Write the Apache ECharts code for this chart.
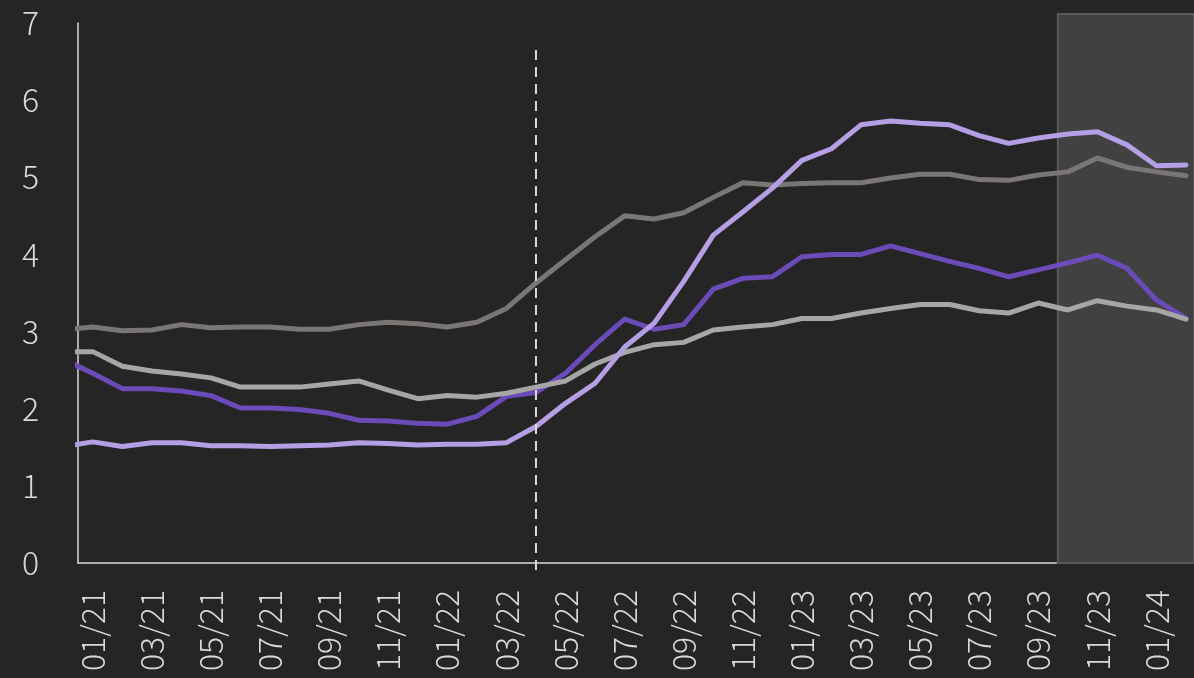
<!DOCTYPE html>
<html>
<head>
  <meta charset="UTF-8" />
  <title>Rates 2021-2024</title>
  <script src="https://cdn.jsdelivr.net/npm/echarts@6/dist/echarts.min.js"></script>
  <style>
    html, body { margin: 0; height: 100%; background-color: #252525; }
    #main { width: 1194px; height: 678px; }
  </style>
</head>
<body>
  <div id="main"></div>
  <script>
    // months, first one (12/20) sits just left of the axis and is clipped
    const months = ['12/20',
      '01/21', '02/21', '03/21', '04/21', '05/21', '06/21', '07/21', '08/21', '09/21', '10/21', '11/21', '12/21',
      '01/22', '02/22', '03/22', '04/22', '05/22', '06/22', '07/22', '08/22', '09/22', '10/22', '11/22', '12/22',
      '01/23', '02/23', '03/23', '04/23', '05/23', '06/23', '07/23', '08/23', '09/23', '10/23', '11/23', '12/23',
      '01/24', '02/24'];

    const darkGray = [3.02,
      3.06, 3.01, 3.02, 3.09, 3.05, 3.06, 3.06, 3.03, 3.03, 3.09, 3.12, 3.10,
      3.06, 3.12, 3.30, 3.63, 3.93, 4.23, 4.50, 4.46, 4.54, 4.74, 4.93, 4.90,
      4.92, 4.93, 4.93, 4.99, 5.04, 5.04, 4.97, 4.96, 5.03, 5.07, 5.25, 5.13,
      5.07, 5.02];
    const lightGray = [2.74,
      2.74, 2.55, 2.49, 2.45, 2.40, 2.28, 2.28, 2.28, 2.32, 2.36, 2.24, 2.13,
      2.17, 2.15, 2.20, 2.28, 2.36, 2.58, 2.73, 2.83, 2.86, 3.02, 3.06, 3.09,
      3.17, 3.17, 3.24, 3.30, 3.35, 3.35, 3.27, 3.24, 3.37, 3.28, 3.40, 3.33,
      3.28, 3.16];
    const purple = [2.64,
      2.46, 2.26, 2.26, 2.23, 2.17, 2.01, 2.01, 1.99, 1.94, 1.85, 1.84, 1.81,
      1.80, 1.90, 2.16, 2.21, 2.46, 2.83, 3.16, 3.03, 3.09, 3.55, 3.69, 3.71,
      3.97, 4.00, 4.00, 4.11, 4.01, 3.91, 3.82, 3.71, 3.80, 3.89, 3.99, 3.82,
      3.41, 3.17];
    const lightPurple = [1.51,
      1.57, 1.51, 1.56, 1.56, 1.52, 1.52, 1.51, 1.52, 1.53, 1.56, 1.55, 1.53,
      1.54, 1.54, 1.56, 1.77, 2.07, 2.33, 2.80, 3.11, 3.65, 4.25, 4.55, 4.86,
      5.22, 5.37, 5.68, 5.73, 5.70, 5.68, 5.54, 5.44, 5.51, 5.56, 5.59, 5.42,
      5.15, 5.16];

    const labelIdx = [0, 2, 4, 6, 8, 10, 12, 14, 16, 18, 20, 22, 24, 26, 28, 30, 32, 34, 36];

    // dashed marker at 04/22, shaded window from mid 09/23
    const eventPos = months.indexOf('04/22') - 1;
    const eventRange = [-0.09, 6.69];
    const shadeFrom = 32.66;

    const xMin = -0.5, xMax = 37.27;
    const pts = arr => arr.map((v, i) => [i - 1, v]);

    const chart = echarts.init(document.getElementById('main'));
    const font = '"Noto Sans CJK JP", "Noto Sans", sans-serif';

    const lineSeries = (data, color, z) => ({
      type: 'line',
      data: pts(data),
      showSymbol: false,
      symbol: 'none',
      z: z,
      lineStyle: { color: color, width: 5, cap: 'round', join: 'round' }
    });

    chart.setOption({
      backgroundColor: '#252525',
      animation: false,
      grid: [
        { left: 78, right: 0, top: 23, bottom: 115, outerBoundsMode: 'none' },
        // overlay grid for the shaded window, a little taller than the axis
        { left: 78, right: 0, top: 14, bottom: 115, outerBoundsMode: 'none' }
      ],
      xAxis: [{
        type: 'value',
        min: xMin,
        max: xMax,
        splitLine: { show: false },
        axisTick: { show: false },
        axisLine: { onZero: false, lineStyle: { color: '#d9d9d9', width: 1.5 } },
        axisLabel: {
          customValues: labelIdx,
          rotate: 90,
          margin: 27,
          color: '#d9d9d9',
          fontFamily: font,
          fontWeight: 300,
          fontSize: 32,
          formatter: v => months[Math.round(v) + 1]
        }
      }, {
        type: 'value', gridIndex: 1, min: xMin, max: xMax, show: false
      }],
      yAxis: [{
        type: 'value',
        min: 0,
        max: 7,
        interval: 1,
        splitLine: { show: false },
        axisTick: { show: false },
        axisLine: { show: true, onZero: false, lineStyle: { color: '#d9d9d9', width: 1.5 } },
        axisLabel: {
          margin: 39,
          color: '#d9d9d9',
          fontFamily: font,
          fontWeight: 300,
          fontSize: 32
        }
      }, {
        type: 'value', gridIndex: 1, min: 0, max: 1, show: false
      }],
      series: [
        lineSeries(purple, '#6a4bb8', 2),
        lineSeries(lightGray, '#a6a6a6', 3),
        lineSeries(darkGray, '#7a7674', 4),
        lineSeries(lightPurple, '#b59fe4', 5),
        {
          type: 'line',
          data: [[eventPos, eventRange[0]], [eventPos, eventRange[1]]],
          symbol: 'none',
          clip: false,
          z: 6,
          lineStyle: { color: '#d9d9d9', width: 2, type: [10, 7] }
        },
        {
          type: 'line',
          xAxisIndex: 1,
          yAxisIndex: 1,
          data: [],
          z: 8,
          markArea: {
            silent: true,
            itemStyle: {
              color: 'rgba(255,255,255,0.13)',
              borderColor: '#595959',
              borderWidth: 2
            },
            data: [[{ coord: [shadeFrom, 0] }, { coord: [xMax, 1] }]]
          }
        }
      ]
    });
  </script>
</body>
</html>
